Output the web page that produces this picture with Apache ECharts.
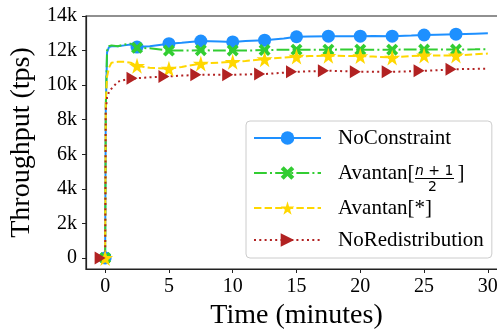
<!DOCTYPE html>
<html><head><meta charset="utf-8">
<script src="https://cdn.jsdelivr.net/npm/echarts@6/dist/echarts.min.js"></script>
<style>html,body{margin:0;padding:0;background:#fff}#c{width:497px;height:329px}</style>
</head><body><div id="c"></div>
<script>
const times = [0, 0.05, 0.15, 0.3, 0.5, 1, 1.5, 2, 2.5, 3.5, 5, 6, 7.5, 9, 10, 11, 12.5, 14, 15, 16, 17.5, 19, 20, 21, 22.5, 24, 25, 26, 27.5, 29, 30];
const markerTimes = [0, 2.5, 5, 7.5, 10, 12.5, 15, 17.5, 20, 22.5, 25, 27.5];
const noConstraint = [0, 8600, 11900, 12200, 12250, 12250, 12300, 12350, 12200, 12250, 12400, 12450, 12550, 12520, 12500, 12550, 12600, 12700, 12800, 12820, 12830, 12830, 12830, 12840, 12830, 12870, 12900, 12920, 12950, 12980, 13000];
const avantanHalf = [0, 8700, 12000, 12250, 12300, 12250, 12350, 12400, 12160, 12130, 12000, 12000, 12020, 12000, 12010, 12000, 12030, 12050, 12050, 12050, 12050, 12060, 12050, 12050, 12050, 12060, 12060, 12060, 12060, 12070, 12080];
const avantanStar = [0, 9000, 10500, 11000, 11300, 11350, 11350, 11300, 11120, 11000, 10950, 11050, 11250, 11300, 11350, 11400, 11500, 11600, 11650, 11680, 11700, 11690, 11680, 11650, 11600, 11680, 11720, 11720, 11720, 11780, 11830];
const noRedistribution = [0, 8500, 9300, 9600, 9800, 10200, 10300, 10350, 10400, 10450, 10500, 10550, 10600, 10600, 10600, 10620, 10640, 10720, 10770, 10800, 10830, 10800, 10770, 10770, 10770, 10800, 10830, 10860, 10920, 10940, 10950];
const xTicks = [0, 5, 10, 15, 20, 25, 30];
const yTicks = [0, 2000, 4000, 6000, 8000, 10000, 12000, 14000];
const seriesNames = ['NoConstraint', 'AvantanHalf', 'Avantan[*]', 'NoRedistribution'];

const SERIF = 'Liberation Serif';
const STAR = 'path://M50,0 L61,35 L98,35 L68,57 L79,91 L50,70 L21,91 L32,57 L2,35 L39,35 Z';
const XMARK = 'path://M0,22 L22,0 L50,28 L78,0 L100,22 L72,50 L100,78 L78,100 L50,72 L22,100 L0,78 L28,50 Z';
const TRI = 'path://M0,0 L100,50 L0,100 Z';

function mk(vals, sym) {
  return times.map((t, i) => ({ value: [t, vals[i]], symbol: markerTimes.includes(t) ? sym : 'none' }));
}
function line(name, vals, color, dash, sym, size, extra) {
  return Object.assign({
    name, type: 'line', data: mk(vals, sym), symbol: sym, symbolSize: size, showSymbol: true,
    lineStyle: { color, width: 2, type: dash }, itemStyle: { color, borderWidth: 0 },
    emphasis: { disabled: true }, clip: true
  }, extra || {});
}

const chart = echarts.init(document.getElementById('c'), null, { renderer: 'canvas' });
chart.setOption({
  animation: false,
  grid: { left: 86, top: 16, right: -10, bottom: 60, outerBoundsMode: 'none', containLabel: false,
    show: true, borderColor: '#222', borderWidth: 1.2 },
  xAxis: {
    type: 'value', min: -1.5, max: 31.5,
    name: 'Time (minutes)', nameLocation: 'middle', nameGap: 30,
    nameTextStyle: { fontFamily: SERIF, fontSize: 28, color: '#000' },
    axisLine: { onZero: false, lineStyle: { color: '#222', width: 1.2 } },
    axisTick: { show: true, length: 4, customValues: xTicks, lineStyle: { color: '#222' } },
    axisLabel: { customValues: xTicks, margin: 8, fontFamily: SERIF, fontSize: 20, color: '#000' },
    splitLine: { show: false }
  },
  yAxis: {
    type: 'value', min: -640, max: 14000,
    name: 'Throughput (tps)', nameLocation: 'middle', nameGap: 46,
    nameTextStyle: { fontFamily: SERIF, fontSize: 28, color: '#000' },
    axisLine: { show: true, onZero: false, lineStyle: { color: '#222', width: 1.2 } },
    axisTick: { show: true, length: 4, customValues: yTicks, lineStyle: { color: '#222' } },
    axisLabel: { customValues: yTicks, margin: 9, fontFamily: SERIF, fontSize: 20, color: '#000',
      formatter: v => v === 0 ? '0' : (v / 1000) + 'k' },
    splitLine: { show: false }
  },
  legend: {
    orient: 'vertical', left: 246, top: 121,
    padding: [6, 8, 7, 7], itemGap: 10, itemWidth: 67, itemHeight: 17,
    backgroundColor: '#fff', borderColor: '#ccc', borderWidth: 1, borderRadius: 4,
    data: seriesNames,
    textStyle: { fontFamily: SERIF, fontSize: 21, color: '#000', lineHeight: 22, padding: [0, 0, 0, 12],
      rich: { a: { fontFamily: SERIF, fontSize: 21, color: '#000', lineHeight: 28 }, g: { width: 43, lineHeight: 28 } } },
    formatter: n => n === 'AvantanHalf' ? '{a|Avantan[}{g|}{a|]}' : n
  },
  graphic: [
    { type: 'text', z: 100, left: 415, top: 164, style: { text: '{i|n} + 1', fontFamily: 'DejaVu Sans', fontSize: 14, fill: '#000',
      rich: { i: { fontFamily: 'DejaVu Sans', fontStyle: 'italic', fontSize: 14, fill: '#000' } } } },
    { type: 'rect', z: 100, shape: { x: 415, y: 178, width: 39, height: 1 }, style: { fill: '#000' } },
    { type: 'text', z: 100, left: 428, top: 180, style: { text: '2', fontFamily: 'DejaVu Sans', fontSize: 14, fill: '#000' } }
  ],
  series: [
    line('NoConstraint', noConstraint, '#1E90FF', 'solid', 'circle', 13),
    line('AvantanHalf', avantanHalf, '#32CD32', [12.8, 3.2, 2, 3.2], XMARK, 12),
    line('Avantan[*]', avantanStar, '#FFD700', [7.4, 3.2], STAR, 16),
    line('NoRedistribution', noRedistribution, '#B22222', [2, 3.3], TRI, [11, 13], { symbolOffset: [-5, 0] })
  ]
});
</script></body></html>
